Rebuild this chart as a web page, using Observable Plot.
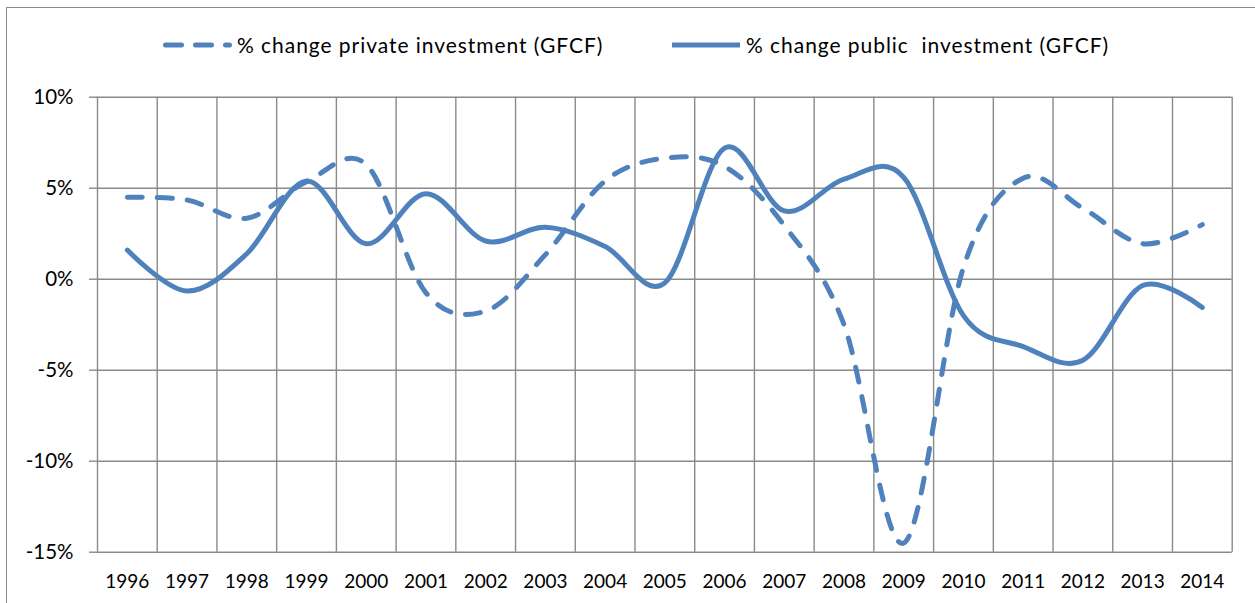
<!DOCTYPE html>
<html>
<head>
<meta charset="utf-8">
<script src="https://cdn.jsdelivr.net/npm/d3@7"></script>
<script src="https://cdn.jsdelivr.net/npm/@observablehq/plot@0.6"></script>
<style>
html, body { margin: 0; padding: 0; background: #fff; overflow: hidden; }
#wrap { position: relative; width: 1255px; height: 603px; overflow: hidden; font-family: Lato, "Open Sans", sans-serif; color: #000; }
#frame { position: absolute; left: 6px; top: 7px; width: 1300px; height: 700px; border: 1px solid #8a8a8a; box-sizing: border-box; }
#legend { position: absolute; left: 0; top: 0; width: 1255px; height: 80px; }
#legend .item { position: absolute; top: 32px; height: 26px; display: flex; align-items: center; }
#legend .item span { font-size: 21px; letter-spacing: 0.95px; white-space: pre; line-height: 26px; }
#chart { position: absolute; left: 0; top: 80px; }
</style>
</head>
<body>
<div id="wrap">
  <div id="frame"></div>
  <div id="legend"></div>
  <div id="chart"></div>
</div>
<script>
// ---- data ----
const years = [1996, 1997, 1998, 1999, 2000, 2001, 2002, 2003, 2004, 2005, 2006, 2007, 2008, 2009, 2010, 2011, 2012, 2013, 2014];
const privateInv = [4.5, 4.35, 3.35, 5.35, 6.3, -0.75, -1.75, 1.35, 5.4, 6.65, 6.2, 2.95, -2.5, -14.5, 0.65, 5.55, 3.9, 1.95, 3.0];
const publicInv = [1.6, -0.65, 1.4, 5.4, 1.95, 4.7, 2.1, 2.85, 1.8, -0.2, 7.2, 3.75, 5.5, 5.6, -2.0, -3.7, -4.45, -0.35, -1.55];
const yTicks = [-15, -10, -5, 0, 5, 10];
const seriesNames = ["% change private investment (GFCF)", "% change public  investment (GFCF)"];

const blue = "#4F81BD";
const gridColor = "#8a8a8a";

// ---- legend (HTML) ----
const legend = document.getElementById("legend");
const legendLefts = [160, 669];
seriesNames.forEach((name, i) => {
  const item = document.createElement("div");
  item.className = "item";
  item.style.left = legendLefts[i] + "px";
  const dash = i === 0 ? 'stroke-dasharray="16,14" stroke-linecap="round"' : 'stroke-linecap="butt"';
  const x1 = i === 0 ? 5.5 : 3;
  const x2 = i === 0 ? 69.5 : 71;
  item.innerHTML = `<svg width="77" height="26"><line x1="${x1}" x2="${x2}" y1="13" y2="13" stroke="${blue}" stroke-width="5" ${dash}/></svg><span>${name}</span>`;
  legend.appendChild(item);
});

// ---- chart ----
const publicData = years.map((yr, i) => ({year: yr, value: publicInv[i]}));
const privateData = years.map((yr, i) => ({year: yr, value: privateInv[i]}));
const gridX = years.map(y => y - 0.5).concat([years[years.length - 1] + 0.5]);

const chart = Plot.plot({
  width: 1255,
  height: 523,
  marginLeft: 97,
  marginRight: 23.3,
  marginTop: 16.7,
  marginBottom: 51.3,
  style: {fontFamily: "Lato, 'Open Sans', sans-serif", fontSize: "19px", color: "#000", background: "transparent"},
  x: {type: "linear", domain: [years[0] - 0.5, years[years.length - 1] + 0.5], label: null},
  y: {domain: [yTicks[0], yTicks[yTicks.length - 1]], label: null},
  marks: [
    Plot.ruleY(yTicks, {stroke: gridColor, strokeWidth: 1.4}),
    Plot.ruleX(gridX, {stroke: gridColor, strokeWidth: 1.4}),
    Plot.axisY(yTicks, {tickSize: 8, tickPadding: 16, tickFormat: d => `${d}%`, stroke: gridColor, strokeWidth: 1.4, label: null, fontSize: 20.5}),
    Plot.axisX(years, {tickSize: 0, tickPadding: 22, tickFormat: d => String(d), label: null, fontSize: 19}),
    Plot.line(publicData, {x: "year", y: "value", stroke: blue, strokeWidth: 5, curve: "cardinal", strokeLinecap: "round", strokeLinejoin: "round"}),
    Plot.line(privateData, {x: "year", y: "value", stroke: blue, strokeWidth: 5, curve: "cardinal", strokeDasharray: "15,15", strokeLinecap: "round", strokeLinejoin: "round"})
  ]
});
document.getElementById("chart").appendChild(chart);
</script>
</body>
</html>
